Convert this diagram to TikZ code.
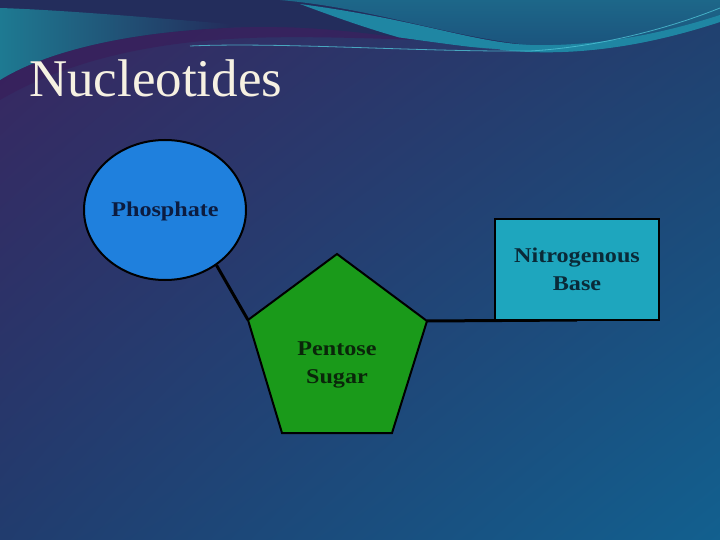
\documentclass[tikz,border=0pt]{standalone}
\usepackage{fontspec}
\setmainfont{Liberation Serif}
\newfontfamily\lblfont[FakeStretch=1.15]{Liberation Serif}
\usetikzlibrary{shapes.geometric,shadings}
\definecolor{bgUL}{HTML}{3A2660}
\definecolor{bgUR}{HTML}{213F6E}
\definecolor{bgLL}{HTML}{213C6E}
\definecolor{bgLR}{HTML}{12608F}
\definecolor{topnavy}{HTML}{232D5C}
\definecolor{topteal}{HTML}{1E7A92}
\definecolor{darkteal}{HTML}{1D6789}
\definecolor{darkteal2}{HTML}{1A4E7A}
\definecolor{bandteal}{HTML}{1F86A3}
\definecolor{swoosh}{HTML}{38205C}
\definecolor{lightcyan}{HTML}{4FC3D6}
\definecolor{phblue}{HTML}{1F80DD}
\definecolor{sugargreen}{HTML}{1A9A1A}
\definecolor{baseteal}{HTML}{1EA6BE}
\definecolor{titlecream}{HTML}{F6F1E2}
\definecolor{txtnavy}{HTML}{0C1C40}
\definecolor{txtgreen}{HTML}{0A260A}
\definecolor{txtteal}{HTML}{0A2A38}
\tikzset{
  shapeline/.style={draw=black, line width=2pt},
  lbl/.style={font=\lblfont\fontsize{21}{28}\selectfont\bfseries, align=center},
  conn/.style={draw=black, line width=3pt},
}
\begin{document}
\begin{tikzpicture}[x=1pt,y=-1pt]
\useasboundingbox (0,0) rectangle (720,540);
% background
\shade[upper left=bgUL, upper right=bgUR, lower left=bgLL, lower right=bgLR] (0,0) rectangle (720,540);
% dark purple swoosh at left under the wave
\fill[swoosh, opacity=0.8]
  (0,80) .. controls (40,55) and (120,30) .. (250,27)
  .. controls (330,26) and (380,32) .. (420,40)
  .. controls (360,38) and (300,36) .. (250,38)
  .. controls (140,42) and (60,65) .. (0,100) -- cycle;
% top wave region
\begin{scope}
\clip (0,0) -- (0,80) .. controls (40,55) and (120,30) .. (250,27)
  .. controls (360,25) and (440,48) .. (530,52)
  .. controls (610,55) and (680,35) .. (720,22) -- (720,0) -- cycle;
\fill[topnavy] (0,0) rectangle (720,90);
\shade[left color=topteal, right color=topnavy] (0,8) .. controls (60,10) and (130,16) .. (230,24) -- (230,90) -- (0,90) -- cycle;
\shade[top color=darkteal, bottom color=darkteal2]
  (280,0) -- (720,0) -- (720,60) -- (520,60) -- (520,44)
  .. controls (440,34) and (370,8) .. (280,0) -- cycle;
\fill[bandteal] (300,4) .. controls (420,20) and (470,42) .. (530,45)
  .. controls (610,47) and (680,28) .. (720,15) -- (720,60) -- (530,60)
  .. controls (450,56) and (380,34) .. (300,4) -- cycle;
\draw[swoosh, line width=1.2pt, opacity=0.7] (330,36) .. controls (400,42) and (450,46) .. (500,50);
\end{scope}
% thin light line
\draw[lightcyan, line width=0.8pt, opacity=0.8]
  (190,46) .. controls (280,42) and (420,52) .. (530,51)
  .. controls (600,47) and (670,28) .. (720,8);
% title
\node[anchor=base west, inner sep=0pt, text=titlecream, font=\fontsize{53}{60}\selectfont] (title) at (29,97) {Nucleotides};
% connectors (behind shapes)
\coordinate (pUL) at (248,320);
\coordinate (pUR) at (427,321);
\coordinate (cend) at (577,320);
% phosphate
\node[ellipse, shapeline, fill=phblue, minimum width=162pt, minimum height=140pt, inner sep=0pt] (ph) at (165,210) {};
\draw[conn] (ph.-47) -- (pUL);
\draw[conn] (pUR) -- (cend);
\node[lbl, text=txtnavy] (phlbl) at (165,211) {Phosphate};
% sugar pentagon
\path[shapeline, fill=sugargreen] (337,254) -- (pUR) -- (392,433) -- (282,433) -- (pUL) -- cycle;
\node[lbl, text=txtgreen] (sugar) at (337,365) {Pentose\\Sugar};
% base rectangle
\node[rectangle, shapeline, fill=baseteal, minimum width=164pt, minimum height=101pt, lbl, text=txtteal] (base) at (577,269.5) {Nitrogenous\\Base};
\end{tikzpicture}
\end{document}
